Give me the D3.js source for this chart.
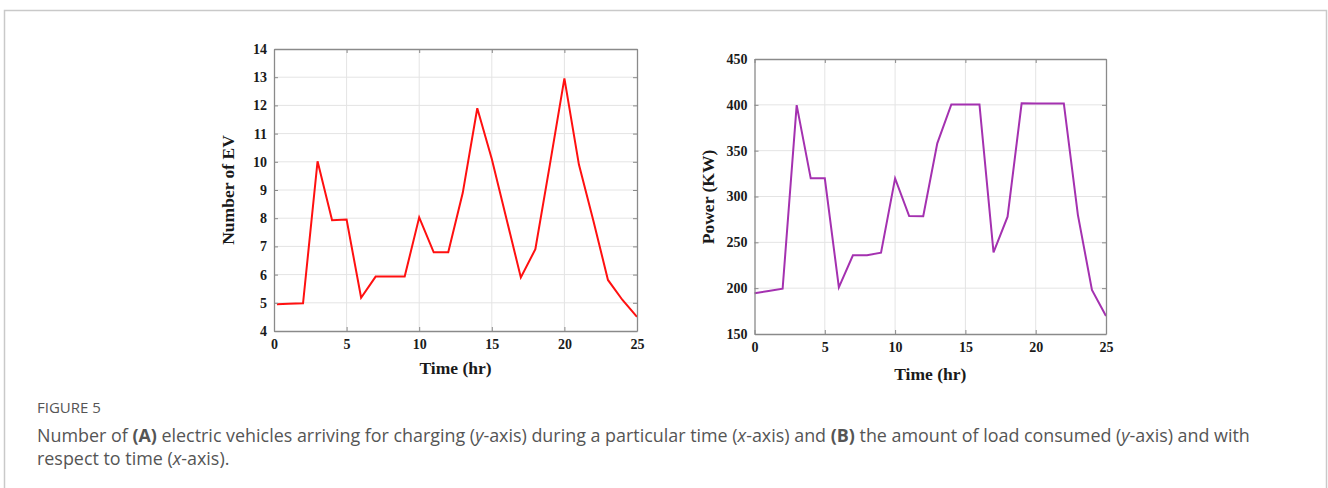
<!DOCTYPE html>
<html>
<head>
<meta charset="utf-8">
<script src="https://cdn.jsdelivr.net/npm/d3@7/dist/d3.min.js"></script>
<style>
html,body{margin:0;padding:0;background:#fff;}
svg{display:block;}
</style>
</head>
<body>
<svg id="fig" width="1328" height="488"></svg>
<script>
// ---------- data ----------
const timeA = [0.2,1,2,3,4,5,6,7,8,9,10,11,12,13,14,15,16,17,18,19,20,21,22,23,24,25];
const evCount = [4.95,4.97,4.98,10.02,7.93,7.95,5.18,5.93,5.93,5.93,8.03,6.79,6.79,8.9,11.9,10.1,8.0,5.9,6.9,9.9,12.96,9.9,7.9,5.81,5.1,4.5];
const timeB = [0,1,2,3,4,5,6,7,8,9,10,11,12,13,14,15,16,17,18,19,20,21,22,23,24,25];
const powerKW = [194.4,197,199.4,399.7,319.8,319.8,200.9,235.8,236,238.7,319.8,278.7,278.5,358,400.5,400.5,400.5,239.1,278,401.6,401.5,401.5,401.5,280,198,169.6];
const xTicks = [0,5,10,15,20,25];
const yTicksA = [4,5,6,7,8,9,10,11,12,13,14];
const yTicksB = [150,200,250,300,350,400,450];

const svg = d3.select("#fig");

// figure frame
svg.append("path")
  .attr("d","M4.5,488 L4.5,10.5 L1326.5,10.5 L1326.5,488")
  .attr("fill","none").attr("stroke","#c9c9c9").attr("stroke-width",1.5);

function panel(cfg){
  const g = svg.append("g");
  const x = d3.scaleLinear().domain([0,25]).range([cfg.x0,cfg.x1]);
  const y = d3.scaleLinear().domain(cfg.yd).range([cfg.y1,cfg.y0]);
  // grid
  g.append("g").selectAll("line").data(cfg.xt.slice(1,-1)).join("line")
    .attr("x1",d=>x(d)).attr("x2",d=>x(d)).attr("y1",cfg.y0).attr("y2",cfg.y1)
    .attr("stroke","#e4e4e4").attr("stroke-width",1);
  g.append("g").selectAll("line").data(cfg.yt.slice(1,-1)).join("line")
    .attr("y1",d=>y(d)).attr("y2",d=>y(d)).attr("x1",cfg.x0).attr("x2",cfg.x1)
    .attr("stroke","#e4e4e4").attr("stroke-width",1);
  // line
  const line = d3.line().x(d=>x(d[0])).y(d=>y(d[1]));
  g.append("path").datum(cfg.t.map((t,i)=>[t,cfg.v[i]]))
    .attr("d",line).attr("fill","none").attr("stroke",cfg.color)
    .attr("stroke-width",2).attr("stroke-linejoin","miter");
  // axes (ticks inward, box)
  const fontF = "'Liberation Serif','Times New Roman',serif";
  const ax = (a)=>a.tickSizeInner(-4).tickSizeOuter(0).tickPadding(6);
  const bottom = g.append("g").attr("transform",`translate(0,${cfg.y1})`)
    .call(ax(d3.axisBottom(x).tickValues(cfg.xt).tickFormat(d3.format("d"))));
  const left = g.append("g").attr("transform",`translate(${cfg.x0},0)`)
    .call(ax(d3.axisLeft(y).tickValues(cfg.yt).tickFormat(d3.format("d"))));
  const top = g.append("g").attr("transform",`translate(0,${cfg.y0})`)
    .call(ax(d3.axisTop(x).tickValues(cfg.xt)).tickFormat(""));
  const right = g.append("g").attr("transform",`translate(${cfg.x1},0)`)
    .call(ax(d3.axisRight(y).tickValues(cfg.yt)).tickFormat(""));
  [bottom,left,top,right].forEach(a=>{
    a.selectAll(".domain").attr("stroke","#8a8a8a").attr("stroke-width",1.3);
    a.selectAll(".tick line").attr("stroke","#8a8a8a");
    a.selectAll("text").attr("font-family",fontF).attr("font-weight","bold")
      .attr("font-size",14).attr("fill","#1a1a1a");
  });
  bottom.selectAll("text").attr("dy","0.85em");
  left.selectAll("text").attr("dx","-1");
  // titles
  g.append("text").attr("x",(cfg.x0+cfg.x1)/2).attr("y",cfg.xtY)
    .attr("text-anchor","middle").attr("font-family",fontF).attr("font-weight","bold")
    .attr("font-size",17.5).attr("fill","#1a1a1a").text("Time (hr)");
  g.append("text").attr("transform",`translate(${cfg.ytX},${cfg.ytYc}) rotate(-90)`)
    .attr("text-anchor","middle").attr("font-family",fontF).attr("font-weight","bold")
    .attr("font-size",17.5).attr("fill","#1a1a1a").text(cfg.ytitle);
}

panel({x0:274,x1:637,y0:49,y1:331,yd:[4,14],xt:xTicks,yt:yTicksA,
  t:timeA,v:evCount,color:"#ff1010",ytitle:"Number of EV",xtY:374,ytX:234,ytYc:190});
panel({x0:754.5,x1:1106,y0:59,y1:334,yd:[150,450],xt:xTicks,yt:yTicksB,
  t:timeB,v:powerKW,color:"#a431b0",ytitle:"Power (KW)",xtY:380,ytX:714,ytYc:197});

// caption
const capF = "'Open Sans',Lato,sans-serif";
const fig5 = svg.append("text").attr("x",37).attr("y",413).attr("font-family",capF)
  .attr("font-size",14).attr("fill","#555").text("FIGURE 5");
const cap1 = svg.append("text").attr("x",37).attr("y",442).attr("font-family",capF)
  .attr("font-size",16).attr("fill","#555");
[["Number of ",0,0],["(A)",1,0],[" electric vehicles arriving for charging (",0,0],["y",0,1],["-axis) during a particular time (",0,0],["x",0,1],["-axis) and ",0,0],["(B)",1,0],[" the amount of load consumed (",0,0],["y",0,1],["-axis) and with",0,0]]
  .forEach(s=>cap1.append("tspan").text(s[0]).attr("font-weight",s[1]?"bold":null).attr("font-style",s[2]?"italic":null));
const cap2 = svg.append("text").attr("x",37).attr("y",465).attr("font-family",capF)
  .attr("font-size",16).attr("fill","#555");
[["respect to time (",0],["x",1],["-axis).",0]]
  .forEach(s=>cap2.append("tspan").text(s[0]).attr("font-style",s[1]?"italic":null));
// fit caption width to the reference layout (line 1 spans ~1214px)
const w1 = cap1.node().getComputedTextLength();
const fs = 16*1214/w1;
cap1.attr("font-size",fs); cap2.attr("font-size",fs);
const wf = fig5.node().getComputedTextLength();
fig5.attr("font-size",14*64/wf);
</script>
</body>
</html>
